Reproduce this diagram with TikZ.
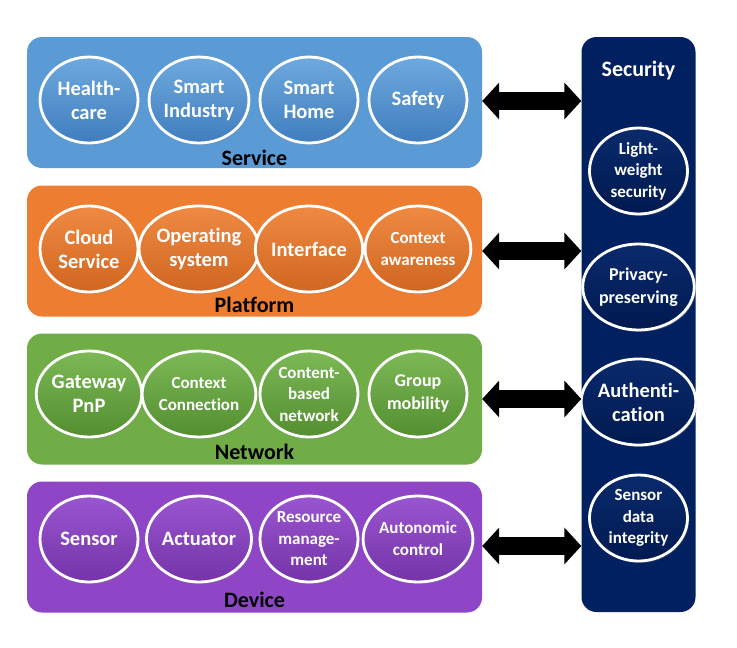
\documentclass[tikz,border=0pt]{standalone}
\usepackage{fontspec}
\setmainfont{Carlito}[Ligatures=NoCommon]
\usetikzlibrary{shapes.geometric,arrows.meta,shadows}
\definecolor{svc}{HTML}{5B9BD5}
\definecolor{svcD}{HTML}{3F7DBE}
\definecolor{svcL}{HTML}{6EA9DE}
\definecolor{plt}{HTML}{ED7D31}
\definecolor{pltD}{HTML}{CF6621}
\definecolor{pltL}{HTML}{F08A42}
\definecolor{net}{HTML}{70AD47}
\definecolor{netD}{HTML}{538E30}
\definecolor{netL}{HTML}{7DB956}
\definecolor{dev}{HTML}{8E46C6}
\definecolor{devD}{HTML}{7434A8}
\definecolor{devL}{HTML}{9A55D0}
\definecolor{sec}{HTML}{002060}
\definecolor{secD}{HTML}{001A50}
\definecolor{secL}{HTML}{0A2A6C}
\tikzset{
  layer/.style={rounded corners=15pt, inner sep=0pt, draw=none, minimum width=455pt, minimum height=131pt},
  layerlbl/.style={font=\bfseries\fontsize{22}{26}\selectfont, text=black, inner sep=0pt},
  bubble/.style={ellipse, draw=white, line width=2.8pt, minimum width=98pt, minimum height=86pt,
    inner sep=0pt, align=center, text=white, font=\bfseries\fontsize{20.5}{24}\selectfont,
    drop shadow={opacity=0.35, shadow xshift=1.5pt, shadow yshift=-2pt}},
  small/.style={font=\bfseries\fontsize{17}{22}\selectfont},
  tri/.style={font=\bfseries\fontsize{17}{21.5}\selectfont},
  bsvc/.style={bubble, top color=svcL, bottom color=svcD},
  bplt/.style={bubble, top color=pltL, bottom color=pltD},
  bnet/.style={bubble, top color=netL, bottom color=netD},
  bdev/.style={bubble, top color=devL, bottom color=devD},
  bsec/.style={bubble, top color=secL, bottom color=secD, drop shadow={opacity=0}},
  bigarrow/.style={line width=18pt, {Triangle[width=36pt,length=17pt]}-{Triangle[width=36pt,length=17pt]}, black}
}
\begin{document}
\begin{tikzpicture}[x=1pt,y=-1pt]
\useasboundingbox (0,0) rectangle (737,648);
% layers
\node[layer, fill=svc] (service) at (254.5,102.5) {};
\node[layer, fill=plt] (platform) at (254.5,251) {};
\node[layer, fill=net] (network) at (254.5,399) {};
\node[layer, fill=dev] (device) at (254.5,547) {};
\node[rounded corners=15pt, fill=sec, inner sep=0pt, minimum width=114pt, minimum height=575pt] (security) at (638.5,324.5) {};
% labels
\node[layerlbl] (servicelbl) at (254.5,158) {Service};
\node[layerlbl] (platformlbl) at (254.5,305) {Platform};
\node[layerlbl] (networklbl) at (254.5,452) {Network};
\node[layerlbl] (devicelbl) at (254.5,600) {Device};
\node[layerlbl, text=white] (securitylbl) at (638.5,71) {Security};
% service bubbles
\node[bsvc] (s1) at (89,100) {Health-\\care};
\node[bsvc] (s2) at (199,100) {Smart\\Industry};
\node[bsvc] (s3) at (309,100) {Smart\\Home};
\node[bsvc] (s4) at (418,100) {Safety};
% platform bubbles
\node[bplt] (p1) at (89,249) {Cloud\\Service};
\node[bplt] (p2) at (199,249) {Operating\\system};
\node[bplt] (p3) at (309,249) {Interface};
\node[bplt, small] (p4) at (418,249) {Context\\awareness};
% network bubbles
\node[bnet] (n1) at (89,394) {Gateway\\PnP};
\node[bnet, small] (n2) at (199,394) {Context\\Connection};
\node[bnet, tri] (n3) at (309,394) {Content-\\based\\network};
\node[bnet, font=\bfseries\fontsize{18}{23}\selectfont] (n4) at (418,394) {Group\\mobility};
% device bubbles
\node[bdev] (d1) at (89,539) {Sensor};
\node[bdev] (d2) at (199,539) {Actuator};
\node[bdev, tri] (d3) at (309,539) {Resource\\manage-\\ment};
\node[bdev, small] (d4) at (418,539) {Autonomic\\control};
% security bubbles
\node[bsec, tri] (c1) at (638.5,171) {Light-\\weight\\security};
\node[bsec, font=\bfseries\fontsize{18}{23}\selectfont] (c2) at (638.5,287) {Privacy-\\preserving};
\node[bsec] (c3) at (638.5,402) {Authenti-\\cation};
\node[bsec, tri] (c4) at (638.5,518) {Sensor\\data\\integrity};
% arrows
\draw[bigarrow] ([yshift=1.5pt]service.east) -- ([yshift=1.5pt]service.east -| security.west);
\draw[bigarrow] (platform.east) -- (platform.east -| security.west);
\draw[bigarrow] (network.east) -- (network.east -| security.west);
\draw[bigarrow] ([yshift=1pt]device.east) -- ([yshift=1pt]device.east -| security.west);
\end{tikzpicture}
\end{document}
